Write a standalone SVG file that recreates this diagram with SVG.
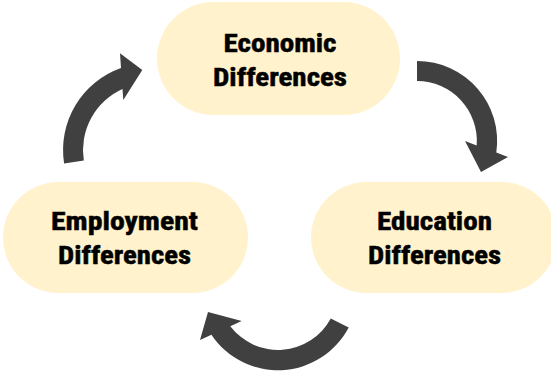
<svg xmlns="http://www.w3.org/2000/svg" width="551" height="375" viewBox="0 0 551 375">
  <style>
    .node { fill: #FFF2CC; }
    .label { font-family: "Liberation Sans Narrow", "Roboto Condensed", "Liberation Sans", Arial, sans-serif; font-weight: bold; font-size: 26.5px; fill: #000000; stroke: #000000; stroke-width: 0.5px; text-anchor: middle; }
    .arrow { fill: #404040; }
  </style>
  <rect width="551" height="375" fill="#FFFFFF"/>
  <g id="connectors">
    <path class="arrow" d="M417,61 A80,80 0 0,1 496.3,152.6 L508,157 L481,172 L465,141 L476.7,145.4 A60,60 0 0,0 417,81 Z"/>
    <path class="arrow" d="M348.7,327.4 A80,80 0 0,1 211.4,334.8 L200,340 L208,312 L241.7,321 L230.3,326.2 A60,60 0 0,0 330.8,318.6 Z"/>
    <path class="arrow" d="M64.1,163.6 A87,87 0 0,1 121,68.1 L120,53.3 L142.3,70 L123.3,100 L122.5,89.1 A67,67 0 0,0 83.8,160.5 Z"/>
  </g>
  <g id="economic">
    <rect class="node" x="157" y="2" width="243" height="113" rx="56.5"/>
    <text class="label" x="280" y="52" textLength="113" lengthAdjust="spacingAndGlyphs">Economic</text>
    <text class="label" x="280" y="86" textLength="134" lengthAdjust="spacingAndGlyphs">Differences</text>
  </g>
  <g id="education">
    <rect class="node" x="311" y="182" width="246" height="111" rx="55.5"/>
    <text class="label" x="434.5" y="230" textLength="115" lengthAdjust="spacingAndGlyphs">Education</text>
    <text class="label" x="434.5" y="264" textLength="133" lengthAdjust="spacingAndGlyphs">Differences</text>
  </g>
  <g id="employment">
    <rect class="node" x="3" y="182" width="245" height="111" rx="55.5"/>
    <text class="label" x="124.5" y="230" textLength="147" lengthAdjust="spacingAndGlyphs">Employment</text>
    <text class="label" x="124.5" y="264" textLength="133" lengthAdjust="spacingAndGlyphs">Differences</text>
  </g>
</svg>
